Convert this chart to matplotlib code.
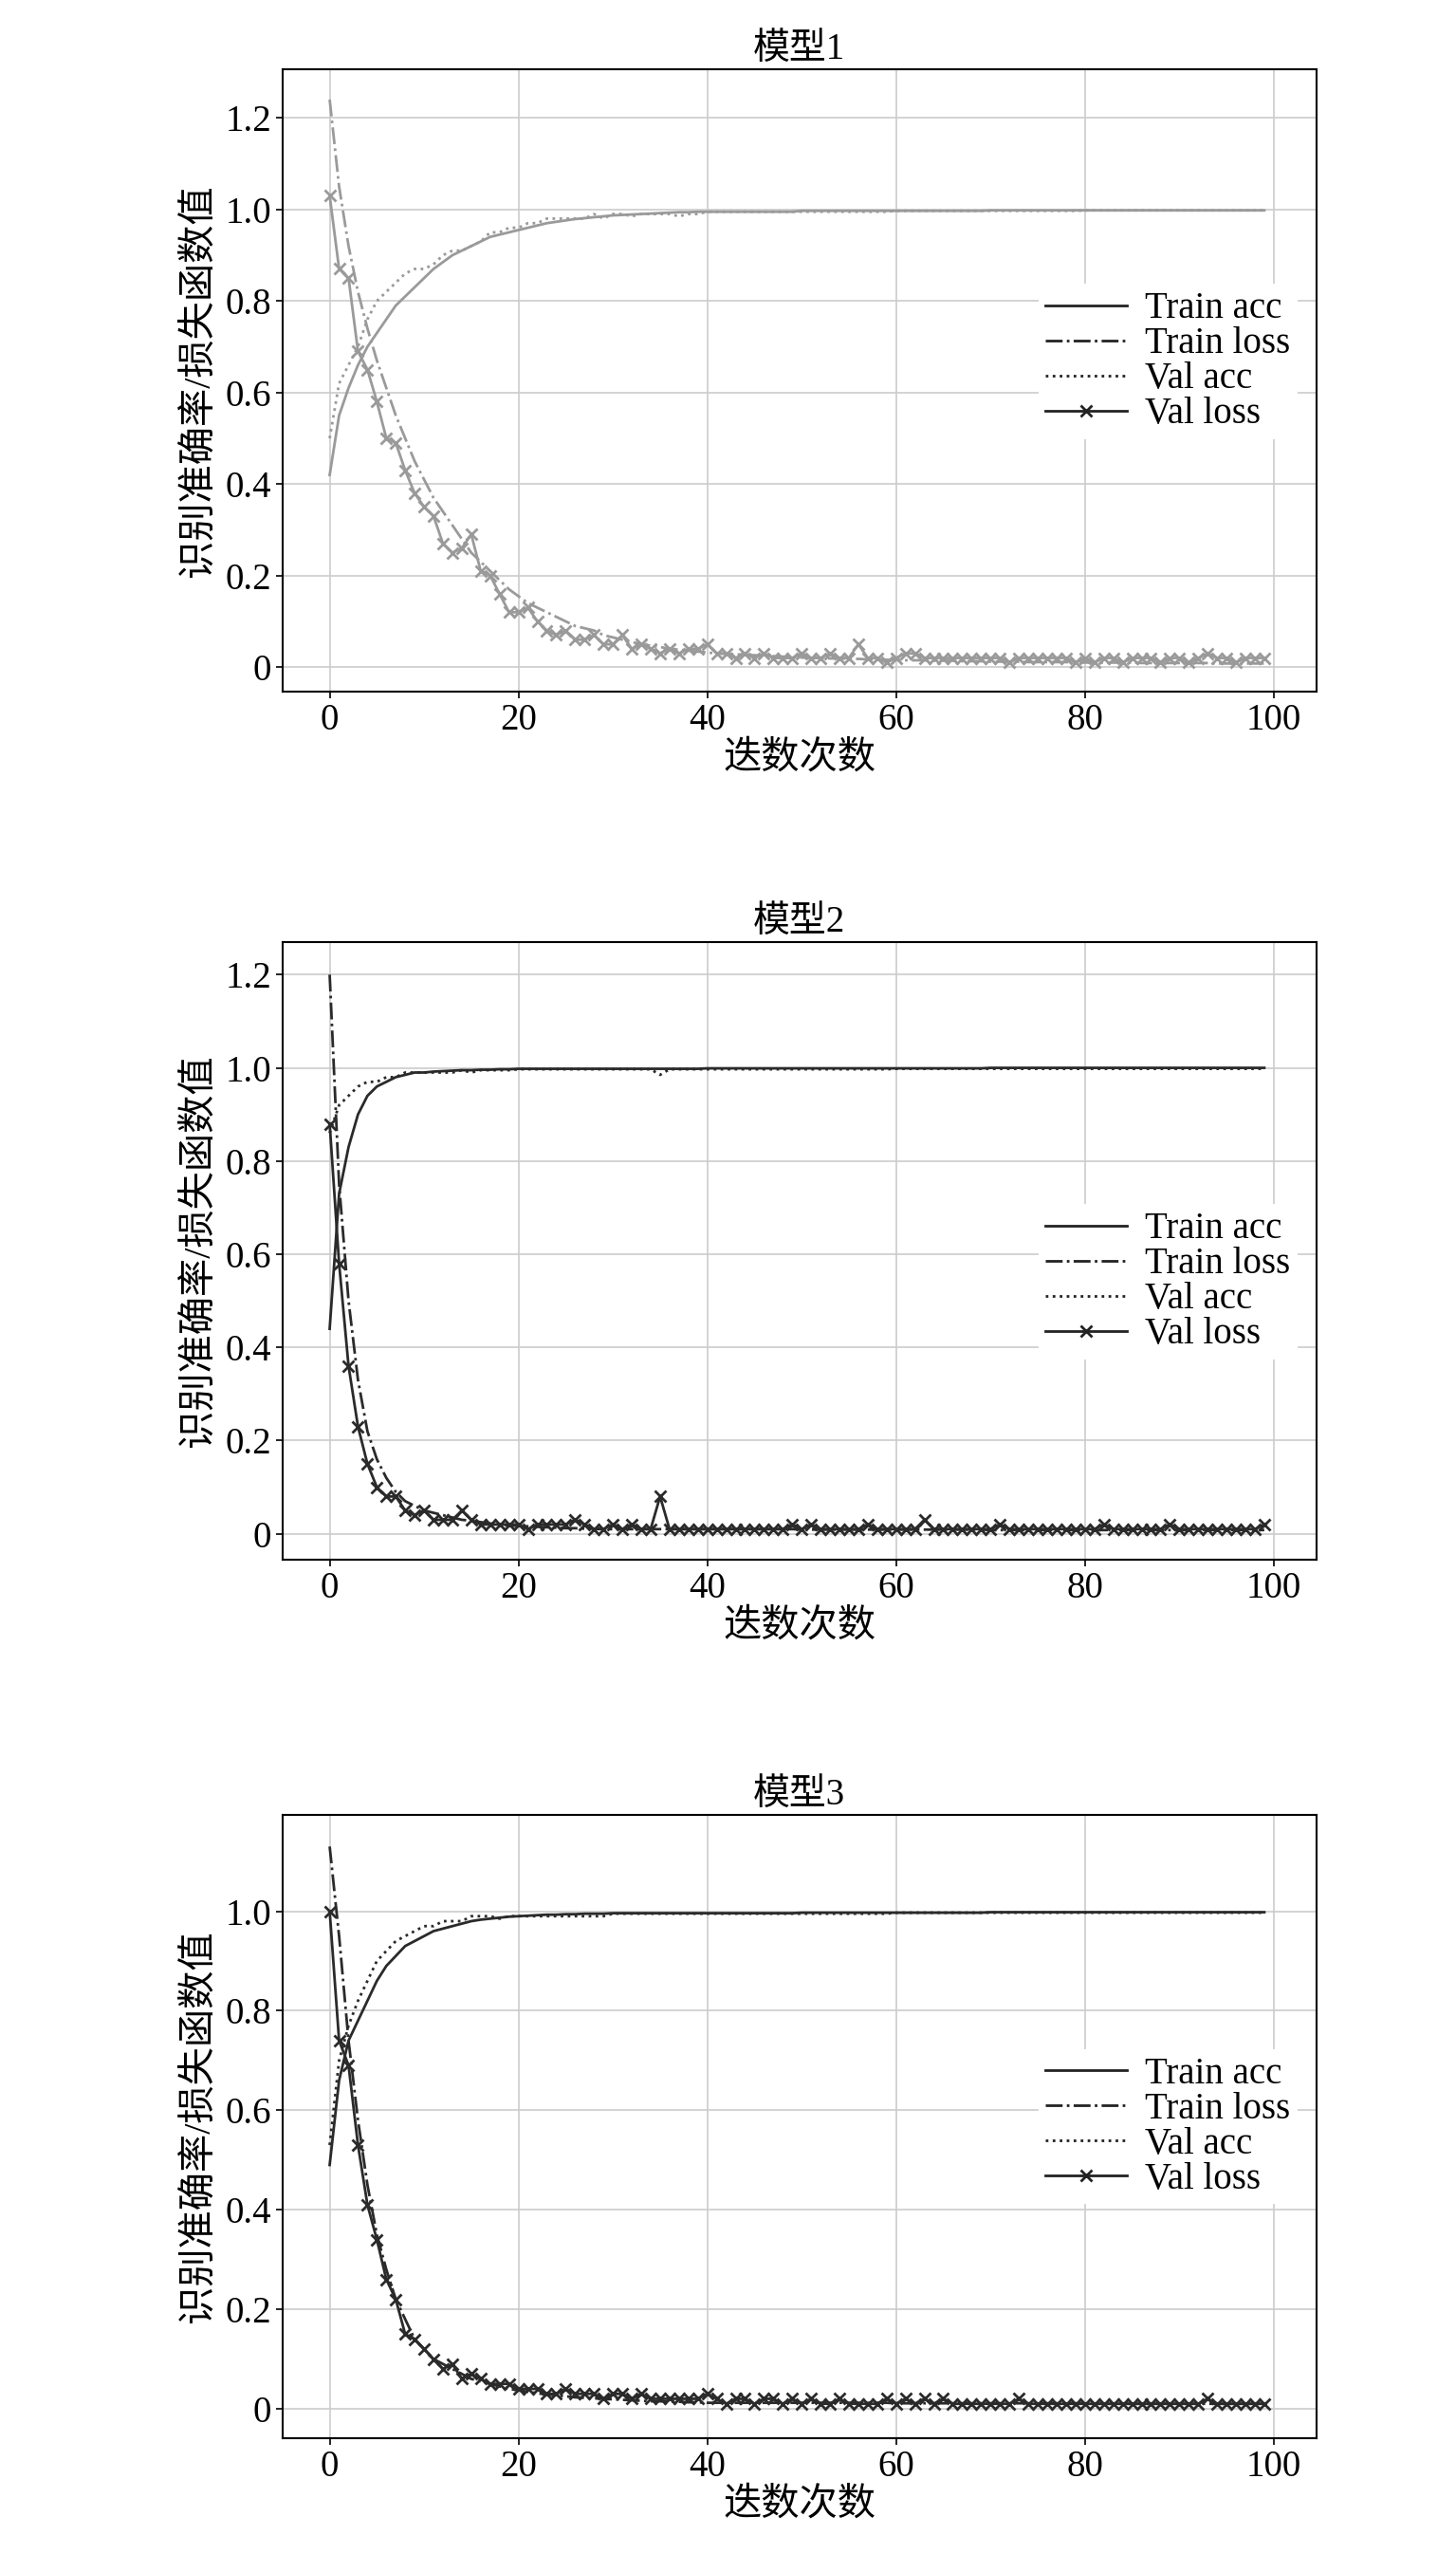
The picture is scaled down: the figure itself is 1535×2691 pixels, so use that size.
import numpy as np
import matplotlib.pyplot as plt

plt.rcParams['font.family'] = ['Liberation Serif', 'Noto Sans CJK SC']

epochs = list(range(100))

# ---- model 1 ----
m1_train_acc = [0.42, 0.55, 0.61, 0.66, 0.70, 0.73, 0.76, 0.79, 0.81, 0.83,
                0.85, 0.87, 0.885, 0.90, 0.91, 0.92, 0.93, 0.94, 0.945, 0.95,
                0.955, 0.96, 0.965, 0.97, 0.973, 0.976, 0.979, 0.981, 0.983, 0.985,
                0.987, 0.988, 0.989, 0.99, 0.991, 0.992, 0.993, 0.994, 0.994, 0.995] + \
               [0.995] * 10 + [0.997] * 20 + [0.998] * 30
m1_val_acc = [0.50, 0.62, 0.66, 0.70, 0.76, 0.80, 0.82, 0.84, 0.86, 0.87,
              0.87, 0.88, 0.90, 0.91, 0.91, 0.92, 0.93, 0.95, 0.95, 0.96,
              0.96, 0.97, 0.97, 0.98, 0.98, 0.98, 0.98, 0.98, 0.99, 0.98] + \
             [0.99, 0.99, 0.985, 0.99, 0.99, 0.99, 0.99, 0.985, 0.99, 0.99] + \
             [0.995] * 20 + [0.997] * 20 + [0.998] * 20
m1_train_loss = [1.24, 1.05, 0.92, 0.82, 0.74, 0.67, 0.61, 0.55, 0.50, 0.45,
                 0.41, 0.37, 0.34, 0.31, 0.28, 0.25, 0.23, 0.21, 0.19, 0.17,
                 0.155, 0.14, 0.13, 0.12, 0.11, 0.10, 0.09, 0.085, 0.08, 0.07,
                 0.065, 0.06, 0.055, 0.05, 0.047, 0.044, 0.04, 0.038, 0.036, 0.034,
                 0.032, 0.03, 0.029, 0.028, 0.027, 0.026, 0.025, 0.024, 0.023, 0.022,
                 0.021, 0.02, 0.02, 0.019, 0.019, 0.018, 0.018, 0.017, 0.017, 0.016,
                 0.016, 0.015, 0.015, 0.015, 0.014, 0.014, 0.014, 0.013, 0.013, 0.013,
                 0.012, 0.012, 0.012, 0.012, 0.011, 0.011, 0.011, 0.011, 0.011, 0.01,
                 0.01, 0.01, 0.01, 0.01, 0.01, 0.01, 0.009, 0.009, 0.009, 0.009,
                 0.009, 0.009, 0.009, 0.009, 0.008, 0.008, 0.008, 0.008, 0.008, 0.008]
m1_val_loss = [1.03, 0.87, 0.85, 0.69, 0.65, 0.58, 0.50, 0.49, 0.43, 0.38,
               0.35, 0.33, 0.27, 0.25, 0.26, 0.29, 0.21, 0.20, 0.16, 0.12,
               0.12, 0.13, 0.10, 0.08, 0.07, 0.08, 0.06, 0.06, 0.07, 0.05,
               0.05, 0.07, 0.04, 0.05, 0.04, 0.03, 0.04, 0.03, 0.04, 0.04,
               0.05, 0.03, 0.03, 0.02, 0.03, 0.02, 0.03, 0.02, 0.02, 0.02,
               0.03, 0.02, 0.02, 0.03, 0.02, 0.02, 0.05, 0.02, 0.02, 0.01,
               0.02, 0.03, 0.03, 0.02, 0.02, 0.02, 0.02, 0.02, 0.02, 0.02,
               0.02, 0.02, 0.01, 0.02, 0.02, 0.02, 0.02, 0.02, 0.02, 0.01,
               0.02, 0.01, 0.02, 0.02, 0.01, 0.02, 0.02, 0.02, 0.01, 0.02,
               0.02, 0.01, 0.02, 0.03, 0.02, 0.02, 0.01, 0.02, 0.02, 0.02]

# ---- model 2 ----
m2_train_acc = [0.44, 0.73, 0.83, 0.90, 0.94, 0.96, 0.97, 0.98, 0.985, 0.99,
                0.99, 0.992, 0.993, 0.994, 0.995, 0.995, 0.996, 0.996, 0.997, 0.997] + \
               [0.998] * 20 + [0.999] * 30 + [1.0] * 30
m2_val_acc = [0.86, 0.92, 0.94, 0.96, 0.97, 0.97, 0.98, 0.98, 0.99, 0.99,
              0.99, 0.99, 0.99, 0.99, 0.995, 0.99, 0.995, 0.995, 0.995, 0.995] + \
             [0.997] * 15 + [0.985] + [0.997] * 24 + [0.998] * 40
m2_train_loss = [1.20, 0.75, 0.50, 0.33, 0.22, 0.16, 0.12, 0.09, 0.07, 0.06,
                 0.05, 0.045, 0.04, 0.035, 0.03, 0.028, 0.025, 0.022, 0.02, 0.018,
                 0.017, 0.016, 0.015, 0.014, 0.013, 0.012, 0.012, 0.011, 0.011, 0.01] + \
                [0.01] * 20 + [0.009] * 20 + [0.008] * 30
m2_val_loss = [0.88, 0.58, 0.36, 0.23, 0.15, 0.10, 0.08, 0.08, 0.05, 0.04,
               0.05, 0.03, 0.03, 0.03, 0.05, 0.03, 0.02, 0.02, 0.02, 0.02,
               0.02, 0.01, 0.02, 0.02, 0.02, 0.02, 0.03, 0.02, 0.01, 0.01,
               0.02, 0.01, 0.02, 0.01, 0.01, 0.08, 0.01, 0.01, 0.01, 0.01,
               0.01, 0.01, 0.01, 0.01, 0.01, 0.01, 0.01, 0.01, 0.01, 0.02,
               0.01, 0.02, 0.01, 0.01, 0.01, 0.01, 0.01, 0.02, 0.01, 0.01,
               0.01, 0.01, 0.01, 0.03, 0.01, 0.01, 0.01, 0.01, 0.01, 0.01,
               0.01, 0.02, 0.01, 0.01, 0.01, 0.01, 0.01, 0.01, 0.01, 0.01,
               0.01, 0.01, 0.02, 0.01, 0.01, 0.01, 0.01, 0.01, 0.01, 0.02,
               0.01, 0.01, 0.01, 0.01, 0.01, 0.01, 0.01, 0.01, 0.01, 0.02]

# ---- model 3 ----
m3_train_acc = [0.49, 0.66, 0.74, 0.78, 0.82, 0.86, 0.89, 0.91, 0.93, 0.94,
                0.95, 0.96, 0.965, 0.97, 0.975, 0.98, 0.983, 0.985, 0.987, 0.989,
                0.99, 0.991, 0.992, 0.993, 0.993, 0.994, 0.994, 0.995, 0.995, 0.995] + \
               [0.996] * 20 + [0.997] * 20 + [0.998] * 30
m3_val_acc = [0.53, 0.70, 0.77, 0.82, 0.86, 0.90, 0.92, 0.94, 0.95, 0.96,
              0.97, 0.97, 0.98, 0.98, 0.98, 0.99, 0.99, 0.99, 0.985, 0.99] + \
             [0.99] * 10 + [0.995] * 30 + [0.997] * 40
m3_train_loss = [1.13, 0.95, 0.74, 0.58, 0.45, 0.35, 0.28, 0.22, 0.18, 0.14,
                 0.12, 0.10, 0.09, 0.08, 0.07, 0.06, 0.055, 0.05, 0.045, 0.04,
                 0.037, 0.034, 0.031, 0.029, 0.027, 0.025, 0.023, 0.022, 0.021, 0.02,
                 0.019, 0.018, 0.017, 0.016, 0.015, 0.015, 0.014, 0.014, 0.013, 0.013] + \
                [0.012] * 20 + [0.011] * 20 + [0.01] * 20
m3_val_loss = [1.00, 0.74, 0.69, 0.53, 0.41, 0.34, 0.26, 0.22, 0.15, 0.14,
               0.12, 0.10, 0.08, 0.09, 0.06, 0.07, 0.06, 0.05, 0.05, 0.05,
               0.04, 0.04, 0.04, 0.03, 0.03, 0.04, 0.03, 0.03, 0.03, 0.02,
               0.03, 0.03, 0.02, 0.03, 0.02, 0.02, 0.02, 0.02, 0.02, 0.02,
               0.03, 0.02, 0.01, 0.02, 0.02, 0.01, 0.02, 0.02, 0.01, 0.02,
               0.01, 0.02, 0.01, 0.01, 0.02, 0.01, 0.01, 0.01, 0.01, 0.02,
               0.01, 0.02, 0.01, 0.02, 0.01, 0.02, 0.01, 0.01, 0.01, 0.01,
               0.01, 0.01, 0.01, 0.02, 0.01, 0.01, 0.01, 0.01, 0.01, 0.01,
               0.01, 0.01, 0.01, 0.01, 0.01, 0.01, 0.01, 0.01, 0.01, 0.01,
               0.01, 0.01, 0.01, 0.02, 0.01, 0.01, 0.01, 0.01, 0.01, 0.01]

titles = ['模型1', '模型2', '模型3']
series = [(m1_train_acc, m1_train_loss, m1_val_acc, m1_val_loss),
          (m2_train_acc, m2_train_loss, m2_val_acc, m2_val_loss),
          (m3_train_acc, m3_train_loss, m3_val_acc, m3_val_loss)]
colors = ['#9a9a9a', '#2a2a2a', '#2a2a2a']
ylims = [(-0.054, 1.307), (-0.056, 1.27), (-0.059, 1.193)]
yticks = [[0, 0.2, 0.4, 0.6, 0.8, 1.0, 1.2], [0, 0.2, 0.4, 0.6, 0.8, 1.0, 1.2],
          [0, 0.2, 0.4, 0.6, 0.8, 1.0]]
boxes = [(0.729, 0.973), (0.389, 0.631), (0.045, 0.289)]
leg_y = [0.53, 0.45, 0.50]

fig = plt.figure(figsize=(15.35, 26.91), dpi=100)
for i in range(3):
    b, t = boxes[i]
    ax = fig.add_axes([0.194, b, 0.71, t - b])
    tr_acc, tr_loss, va_acc, va_loss = series[i]
    c = colors[i]
    ax.plot(epochs, tr_acc, '-', color=c, lw=2, label='Train acc')
    ax.plot(epochs, tr_loss, '-.', color=c, lw=2, label='Train loss')
    ax.plot(epochs, va_acc, ':', color=c, lw=2, label='Val acc')
    ax.plot(epochs, va_loss, '-', color=c, lw=2, marker='x', ms=9, mew=2, label='Val loss')
    ax.set_xlim(-5, 104.5)
    ax.set_ylim(*ylims[i])
    ax.set_xticks([0, 20, 40, 60, 80, 100])
    ax.set_yticks(yticks[i])
    ax.set_yticklabels(['0' if v == 0 else f'{v:.1f}' for v in yticks[i]])
    ax.grid(True, color='#cccccc', lw=1.2)
    ax.tick_params(labelsize=28, length=5, width=1.2)
    for s in ax.spines.values():
        s.set_linewidth(1.5)
    ax.set_title(titles[i], fontsize=28, pad=8)
    ax.set_xlabel('迭数次数', fontsize=29, labelpad=2)
    ax.set_ylabel('识别准确率/损失函数值', fontsize=29, labelpad=6)
    leg = ax.legend(loc='center right', bbox_to_anchor=(1.0, leg_y[i]), fontsize=28,
                    frameon=True, edgecolor='none', framealpha=1, borderpad=0.2,
                    labelspacing=0.0, handlelength=2.2, handletextpad=0.5)
    for h in leg.legend_handles:
        h.set_color('#222222')

fig.savefig('out.png', dpi=100)
